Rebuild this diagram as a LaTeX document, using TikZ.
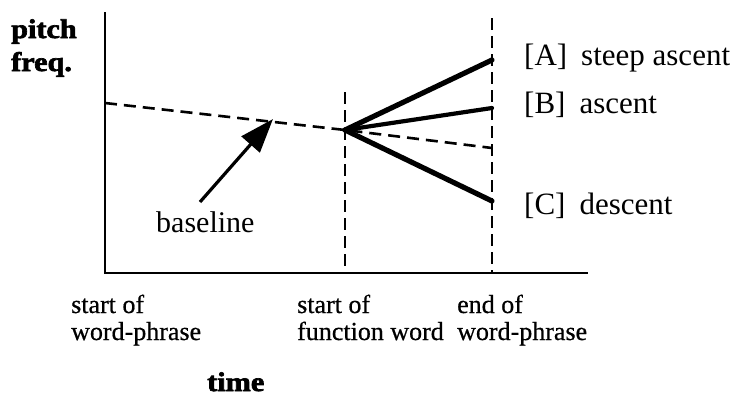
\documentclass[tikz,border=0pt]{standalone}
\usepackage{fontspec}
\setmainfont{Liberation Serif}
\newfontfamily\headfont[FakeStretch=1.12,FakeBold=2.5]{Liberation Serif}
\newfontfamily\tickfont[FakeBold=0.6]{Liberation Serif}
\usetikzlibrary{arrows.meta}

\tikzset{
  axisline/.style={line width=2.2pt},
  dashline/.style={line width=2.6pt, dash pattern=on 12pt off 7pt},
  divider/.style={line width=2.3pt, dash pattern=on 12pt off 6pt},
  contour/.style={line width=5.2pt, line cap=round},
  curvelabel/.style={font=\fontsize{31}{31}\selectfont, anchor=base west, inner sep=0pt},
  ticklabel/.style={font=\tickfont\fontsize{26}{26}\selectfont, anchor=base west, inner sep=0pt},
  axistitle/.style={font=\headfont\bfseries\fontsize{27}{27}\selectfont, anchor=base west, inner sep=0pt},
}

\begin{document}
\begin{tikzpicture}[x=1pt, y=-1pt]
  \useasboundingbox (0,0) rectangle (740,397);

  % axes
  \coordinate (ytop) at (105,12);
  \coordinate (origin) at (105,273);
  \coordinate (xend) at (588,273);
  \draw[axisline] (ytop) -- (origin) -- (xend);

  % time markers
  \coordinate (fwtop) at (345,92);
  \coordinate (fwbot) at (345,273);
  \coordinate (endtop) at (492,18);
  \coordinate (endbot) at (492,273);
  \draw[divider] (fwtop) -- (fwbot);
  \draw[divider] (endtop) -- (endbot);

  % baseline and its continuation
  \coordinate (bstart) at (105,103);
  \coordinate (pivot) at (345,130);
  \coordinate (bend) at (492,148);
  \draw[dashline] (bstart) -- (pivot) -- (bend);

  % pitch contours after the function word
  \coordinate (aend) at (492,60);
  \coordinate (bbend) at (492,108);
  \coordinate (cend) at (492,201);
  \draw[contour] (pivot) -- (aend);
  \draw[contour, line width=4.2pt] (pivot) -- (bbend);
  \draw[contour] (pivot) -- (cend);

  % contour labels
  \node[curvelabel] (labA) at (524,65) {[A]\hspace{14pt}steep ascent};
  \node[curvelabel] (labB) at (524,113) {[B]\hspace{14pt}ascent};
  \node[curvelabel] (labC) at (524,214) {[C]\hspace{14pt}descent};

  % baseline pointer
  \node[font=\fontsize{30}{30}\selectfont, anchor=base west, inner sep=0pt] (blabel) at (156,232) {baseline};
  \coordinate (ptail) at (200,202);
  \coordinate (ptip) at (273,119);
  \draw[line width=3.2pt, -{Triangle[length=34pt, width=24pt]}] (ptail) -- (ptip);

  % axis titles
  \node[axistitle] (ytitle1) at (11,38) {pitch};
  \node[axistitle] (ytitle2) at (11,71) {freq.};
  \node[axistitle] (xtitle) at (207,391) {time};

  % time-axis labels
  \node[ticklabel] (t1a) at (71,313) {start of};
  \node[ticklabel] (t1b) at (71,340) {word-phrase};
  \node[ticklabel] (t2a) at (297,313) {start of};
  \node[ticklabel] (t2b) at (297,340) {function word};
  \node[ticklabel] (t3a) at (457,313) {end of};
  \node[ticklabel] (t3b) at (457,340) {word-phrase};
\end{tikzpicture}
\end{document}
